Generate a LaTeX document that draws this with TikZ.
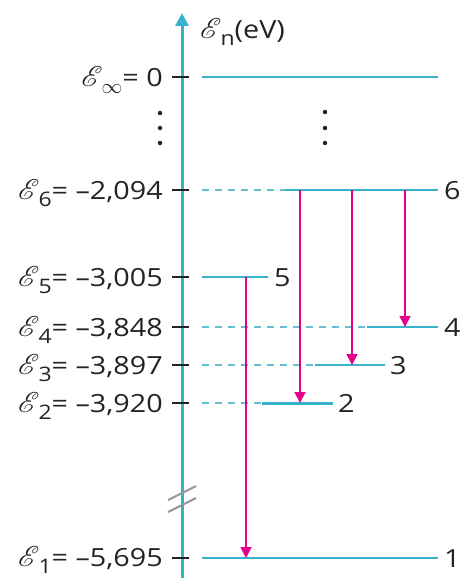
\documentclass[tikz,border=0pt]{standalone}
\usepackage{fontspec}
\setmainfont{Open Sans}[FakeStretch=1.15]
\usepackage{mathrsfs}
\usetikzlibrary{arrows.meta}
\definecolor{cy}{RGB}{55,178,202}
\definecolor{cyl}{RGB}{100,192,206}
\definecolor{mg}{RGB}{228,0,140}
\definecolor{tk}{RGB}{35,35,35}
\definecolor{brk}{RGB}{150,150,150}
\newcommand\Escr[1]{\scalebox{1.15}{$\mathscr{E}$}\kern-1pt\raisebox{-7pt}{\fontsize{20}{20}\selectfont #1}}
\tikzset{
  lbl/.style={font=\fontsize{25}{25}\selectfont, text=tk, inner sep=0pt},
  tick/.style={tk, line width=2.2pt},
  lvl/.style={cy, line width=2pt},
  lvlthick/.style={cy, line width=3pt},
  dsh/.style={cyl, line width=2pt, dash pattern=on 7pt off 6pt},
  trans/.style={mg, line width=1.8pt, -{Triangle[length=11pt,width=11pt]}},
  dotc/.style={fill=tk, draw=none, circle, inner sep=0pt, minimum size=4.5pt}
}
\begin{document}
\begin{tikzpicture}[x=1pt,y=-1pt]
\useasboundingbox (0,0) rectangle (471,578);
% axis
\coordinate (axb) at (182,578);
\coordinate (axt) at (182,13);
\draw[cy, line width=3pt, -{Triangle[length=13pt,width=13pt]}] (axb) -- (axt);
\node[lbl, anchor=base west] (unit) at (200,38) {\Escr{n}(eV)};
% break marks
\draw[brk, line width=2pt] (168,500) -- (196,486);
\draw[brk, line width=2pt] (168,512) -- (196,498);
% ticks
\foreach \y in {77,190,277,327,365,403,558}{\draw[tick] (172,\y) -- (189,\y);}
% left labels
\node[lbl, anchor=base east] (linf) at (163,86) {\Escr{$\infty$}= 0};
\node[lbl, anchor=base east] (l6) at (163,199) {\Escr{6}= –2,094};
\node[lbl, anchor=base east] (l5) at (163,286) {\Escr{5}= –3,005};
\node[lbl, anchor=base east] (l4) at (163,336) {\Escr{4}= –3,848};
\node[lbl, anchor=base east] (l3) at (163,374) {\Escr{3}= –3,897};
\node[lbl, anchor=base east] (l2) at (163,412) {\Escr{2}= –3,920};
\node[lbl, anchor=base east] (l1) at (163,566) {\Escr{1}= –5,695};
% dots
\node[dotc] (d1) at (160,113) {};
\node[dotc] (d2) at (160,128) {};
\node[dotc] (d3) at (160,143) {};
\node[dotc] (d4) at (325,112) {};
\node[dotc] (d5) at (325,128) {};
\node[dotc] (d6) at (325,143) {};
% levels
\draw[lvl] (202,77) -- (438,77);
\draw[dsh] (202,190) -- (285,190);
\draw[lvl] (285,190) -- (438,190);
\node[lbl, anchor=base west] (n6) at (444,199) {6};
\draw[lvl] (202,277) -- (268,277);
\node[lbl, anchor=base west] (n5) at (274,286) {5};
\draw[dsh] (202,327) -- (367,327);
\draw[lvl] (367,327) -- (438,327);
\node[lbl, anchor=base west] (n4) at (444,336) {4};
\draw[dsh] (202,365) -- (315,365);
\draw[lvl] (315,365) -- (385,365);
\node[lbl, anchor=base west] (n3) at (390,374) {3};
\draw[dsh] (202,403) -- (262,403);
\draw[lvlthick] (262,403) -- (333,403);
\node[lbl, anchor=base west] (n2) at (338,412) {2};
\draw[lvl] (202,558) -- (438,558);
\node[lbl, anchor=base west] (n1) at (444,567) {1};
% transitions
\coordinate (a51) at (246,277); \coordinate (b51) at (246,558);
\coordinate (a62) at (300,190); \coordinate (b62) at (300,403);
\coordinate (a63) at (352,190); \coordinate (b63) at (352,365);
\coordinate (a64) at (405,190); \coordinate (b64) at (405,327);
\draw[trans] (a51) -- (b51);
\draw[trans] (a62) -- (b62);
\draw[trans] (a63) -- (b63);
\draw[trans] (a64) -- (b64);
\end{tikzpicture}
\end{document}
